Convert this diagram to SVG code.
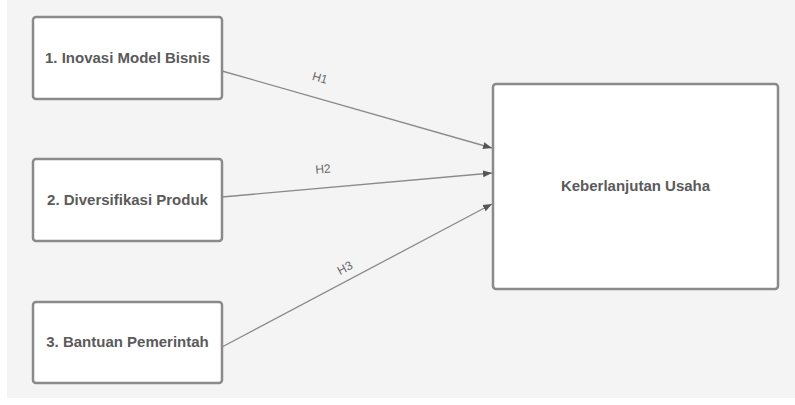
<svg xmlns="http://www.w3.org/2000/svg" width="795" height="405" viewBox="0 0 795 405">
<style>
.node{fill:#ffffff;stroke:#8a8a8a;stroke-width:2.5}
.lbl{font-family:"Liberation Sans",Arial,sans-serif;font-size:15px;font-weight:bold;fill:#5a5a5a;text-anchor:middle;dominant-baseline:central}
.edge{stroke:#8a8a8a;stroke-width:1.3;fill:none;marker-end:url(#ah)}
.el{font-family:"Liberation Sans",Arial,sans-serif;font-size:12px;fill:#6a6a6a;text-anchor:middle;dominant-baseline:central}
</style>
<defs>
<marker id="ah" markerWidth="10" markerHeight="8" refX="9" refY="4" orient="auto" markerUnits="userSpaceOnUse">
<path d="M0,0.5 L9,4 L0,7.5 Z" fill="#555"/>
</marker>
</defs>
<rect x="0" y="0" width="795" height="405" fill="#ffffff"/>
<rect x="7" y="0" width="788" height="398" fill="#f4f4f4"/>
<g id="connectors">
<line class="edge" x1="222" y1="71" x2="492" y2="148"/>
<line class="edge" x1="222" y1="197" x2="492" y2="173"/>
<line class="edge" x1="222" y1="347" x2="492" y2="204"/>
<text class="el" transform="translate(320,78) rotate(16)">H1</text>
<text class="el" transform="translate(323,169) rotate(-5)">H2</text>
<text class="el" transform="translate(345,268) rotate(-28)">H3</text>
</g>
<g id="n1">
<rect class="node" x="33" y="17" width="189" height="82" rx="3"/>
<text class="lbl" x="127.5" y="57">1. Inovasi Model Bisnis</text>
</g>
<g id="n2">
<rect class="node" x="33" y="159" width="189" height="82" rx="3"/>
<text class="lbl" x="127.5" y="199">2. Diversifikasi Produk</text>
</g>
<g id="n3">
<rect class="node" x="33" y="302" width="189" height="81" rx="3"/>
<text class="lbl" x="127.5" y="341">3. Bantuan Pemerintah</text>
</g>
<g id="n4">
<rect class="node" x="493" y="84" width="285" height="205" rx="3"/>
<text class="lbl" x="635.5" y="185">Keberlanjutan Usaha</text>
</g>
</svg>
